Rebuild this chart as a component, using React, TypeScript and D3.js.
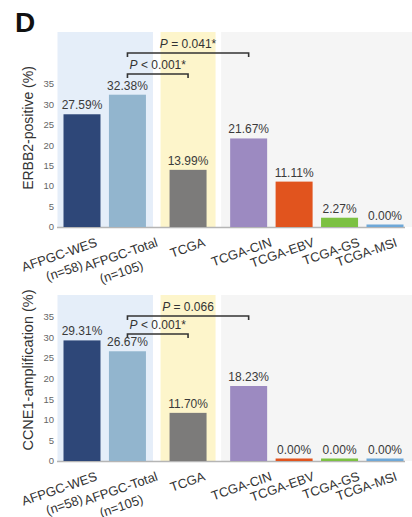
import React from "react";
import * as d3 from "d3";

const categories = ["AFPGC-WES", "AFPGC-Total", "TCGA", "TCGA-CIN", "TCGA-EBV", "TCGA-GS", "TCGA-MSI"];
const subLabels = ["(n=58)", "(n=105)", "", "", "", "", ""];
const groupOf = [0, 0, 1, 2, 2, 2, 2];
const erbb2Values = [27.59, 32.38, 13.99, 21.67, 11.11, 2.27, 0.0];
const ccne1Values = [29.31, 26.67, 11.7, 18.23, 0.0, 0.0, 0.0];
const yTicks = [0, 5, 10, 15, 20, 25, 30, 35];
const erbb2Comparisons = [
  { from: 1, to: 2, op: "<", p: "0.001*" },
  { from: 1, to: 3, op: "=", p: "0.041*" },
];
const ccne1Comparisons = [
  { from: 1, to: 2, op: "<", p: "0.001*" },
  { from: 1, to: 3, op: "=", p: "0.066" },
];

// layout / style (not data)
const barColors = ["#2e4778", "#92b5ce", "#7c7b7a", "#9c8ac1", "#e1541e", "#7cc142", "#6ea8d8"];
const bandColors = ["#e5eef9", "#fdf5cb", "#f5f5f5"];
const labelDx = [16, 31, 18, 24, 21, 21, 13];
const FONT = "'Liberation Sans', Arial, sans-serif";

const GAP = 1 / 3;
const slots = categories.map((_, i) => i + GAP * groupOf[i]);
const x = d3.scaleLinear().domain([0, d3.max(slots) as number]).range([82, 385]);
const BAR_W = 37;

type PanelProps = {
  values: number[];
  comps: { from: number; to: number; op: string; p: string }[];
  y0: number;
  y35: number;
  bandTop: number;
  bracketYs: number[];
  title: string;
  titleY: number;
  titleSize: number;
};

function Panel({ values, comps, y0, y35, bandTop, bracketYs, title, titleY, titleSize }: PanelProps) {
  const y = d3.scaleLinear().domain([0, 35]).range([y0, y35]);
  const groups = d3.groups(categories.map((c, i) => ({ c, i, g: groupOf[i] })), (d) => d.g);
  const bands = groups.map(([g, items], k) => {
    const first = x(slots[items[0].i]) - BAR_W / 2;
    const last = x(slots[items[items.length - 1].i]) + BAR_W / 2;
    const padL = g === 0 ? 6 : 9;
    const padR = g === 0 ? 7 : 9;
    const x1 = first - padL;
    const x2 = k === groups.length - 1 ? 412 : last + padR;
    return { g, x1, x2 };
  });
  return (
    <g>
      {bands.map((b) => (
        <rect key={b.g} x={b.x1} y={bandTop} width={b.x2 - b.x1} height={y0 - bandTop} fill={bandColors[b.g]} />
      ))}
      <line x1={57} x2={405} y1={y0 + 0.5} y2={y0 + 0.5} stroke="#b5b5b5" strokeWidth={1.5} />
      {yTicks.map((t) => (
        <text key={t} x={54} y={y(t)} dy="0.35em" textAnchor="end" fontSize={9.5} fill="#666" fontFamily={FONT}>
          {t}
        </text>
      ))}
      <text
        transform={`translate(33,${titleY}) rotate(-90)`}
        textAnchor="middle"
        fontSize={titleSize}
        fill="#333"
        fontFamily={FONT}
      >
        {title}
      </text>
      {values.map((v, i) => {
        const top = Math.min(y(v), y0 - 2.5);
        const cx = x(slots[i]);
        return (
          <g key={i}>
            <rect x={cx - BAR_W / 2} y={top} width={BAR_W} height={y0 - top} fill={barColors[i]} />
            <text x={cx} y={top - 5} textAnchor="middle" fontSize={12} fill="#3a3a3a" fontFamily={FONT}>
              {v.toFixed(2)}%
            </text>
          </g>
        );
      })}
      {categories.map((c, i) => {
        const cx = x(slots[i]);
        return (
          <g key={c} transform={`translate(${cx + labelDx[i]},${y0 + 19}) rotate(-19)`}>
            <text textAnchor="end" fontSize={13} fill="#333" fontFamily={FONT}>
              {c}
            </text>
            {subLabels[i] && (
              <text x={-21} y={17} textAnchor="end" fontSize={13} fill="#333" fontFamily={FONT}>
                {subLabels[i]}
              </text>
            )}
          </g>
        );
      })}
      {comps.map((cmp, k) => {
        const xa = x(slots[cmp.from]);
        const xb = x(slots[cmp.to]);
        const by = bracketYs[k];
        return (
          <g key={k}>
            <path
              d={`M${xa},${by + 4}V${by}H${xb}V${by + 4}`}
              fill="none"
              stroke="#333"
              strokeWidth={1.6}
            />
            <text x={(xa + xb) / 2} y={by - 5} textAnchor="middle" fontSize={12} fill="#333" fontFamily={FONT}>
              <tspan fontStyle="italic">P</tspan>
              {` ${cmp.op} ${cmp.p}`}
            </text>
          </g>
        );
      })}
    </g>
  );
}

export default function App() {
  return (
    <svg width={412} height={517} style={{ position: "absolute", left: 0, top: 0, background: "#fff" }}>
      <rect width={412} height={517} fill="#fff" />
      <text x={15} y={32} fontSize={28} fontWeight="bold" fill="#111" fontFamily={FONT}>
        D
      </text>
      <Panel
        values={erbb2Values}
        comps={erbb2Comparisons}
        y0={227}
        y35={84}
        bandTop={32}
        bracketYs={[74, 53]}
        title="ERBB2-positive (%)"
        titleY={128}
        titleSize={14}
      />
      <Panel
        values={ccne1Values}
        comps={ccne1Comparisons}
        y0={461}
        y35={317}
        bandTop={295}
        bracketYs={[334, 316]}
        title="CCNE1-amplification (%)"
        titleY={370}
        titleSize={14.5}
      />
    </svg>
  );
}
